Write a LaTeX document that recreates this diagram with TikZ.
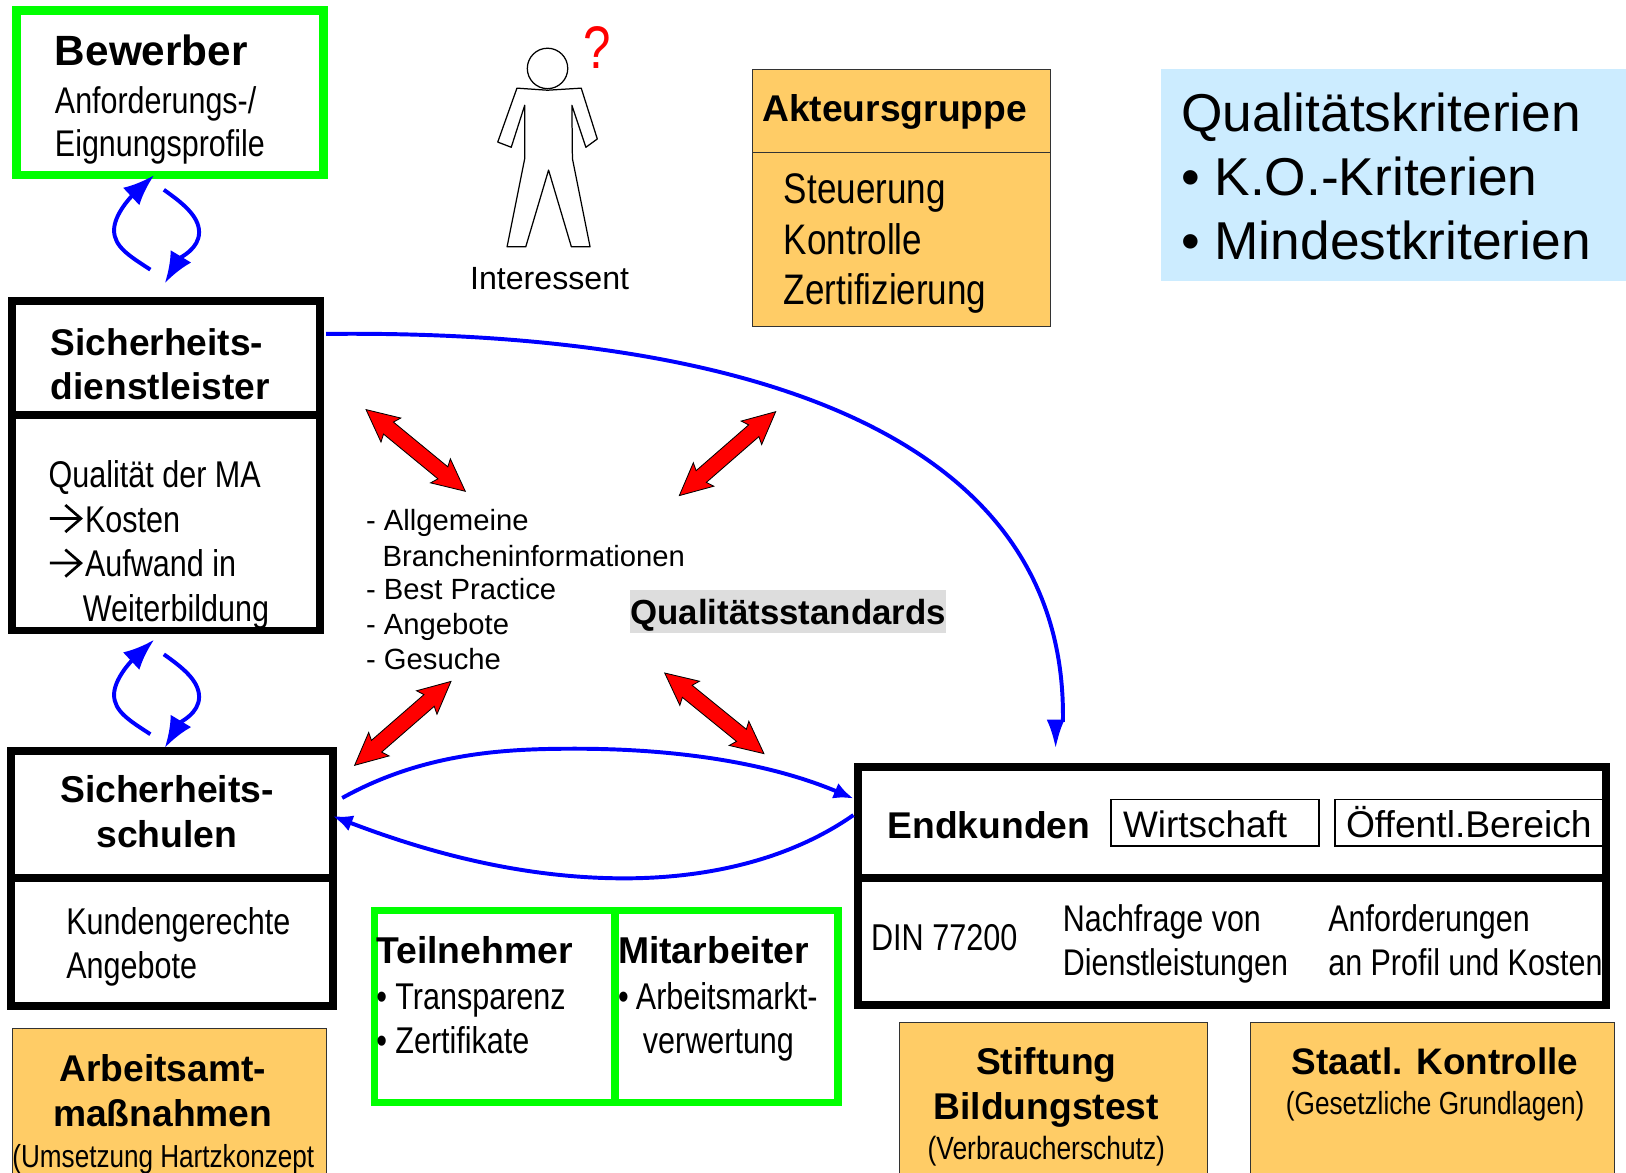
\documentclass[tikz,border=0pt]{standalone}
\usepackage{fontspec}
\setmainfont{Liberation Sans}
\newfontfamily\nar[FakeStretch=0.82]{Liberation Sans}
\usetikzlibrary{calc,arrows.meta}
\newlength\uu \setlength\uu{0.7778pt}
\newcommand\szf[2]{\fontsize{#1\uu}{#2\uu}\selectfont}
\newcommand\NN{\nar\szf{35.9}{43}}
\newcommand\BB{\bfseries\szf{35.9}{43}}
\definecolor{orangebox}{HTML}{FFCC66}
\definecolor{panelblue}{HTML}{CCECFF}
\definecolor{greyhl}{HTML}{DDDDDD}
\definecolor{lime}{HTML}{00FF00}
\tikzset{
 blackbox/.style={draw=black,line width=7.6\uu},
 greenbox/.style={draw=lime,line width=7\uu},
 orange/.style={draw=black!80,fill=orangebox,line width=1\uu},
 smallbox/.style={draw=black,line width=1.8\uu},
 blueline/.style={draw=blue,line width=3.8\uu},
 bigtip/.style={-{Latex[length=23.3pt,width=18pt]}},
 midtip/.style={-{Latex[length=14.8pt,width=12.5pt]}},
 longtip/.style={-{Latex[length=21.8pt,width=13.5pt]}},
 redarr/.style={draw=black,fill=red,line width=0.8\uu},
 lb/.style={inner sep=0pt,outer sep=0pt,anchor=base west,align=left,text=black},
 cb/.style={inner sep=0pt,outer sep=0pt,anchor=base,align=center,text=black},
}
\newcommand\bx[6][]{\node[inner sep=0pt,outer sep=0pt,#1,minimum width={(#5-#3)*\uu},minimum height={(#6-#4)*\uu}] (#2) at ({(#3+#5)/2},{(#4+#6)/2}) {};}
\newcommand\redarrow[2]{\draw[redarr] let \p1=($(#2)-(#1)$), \n1={atan2(\y1,\x1)}, \n2={veclen(\x1,\y1)} in [shift={(#1)},rotate=\n1]
 (0pt,0pt) -- (31\uu,15\uu) -- (28\uu,7.5\uu) -- (\n2-28\uu,7.5\uu) -- (\n2-31\uu,15\uu) -- (\n2,0pt) -- (\n2-31\uu,-15\uu) -- (\n2-28\uu,-7.5\uu) -- (28\uu,-7.5\uu) -- (31\uu,-15\uu) -- cycle;}
\begin{document}
\begin{tikzpicture}[x=0.7778pt,y=-0.7778pt]
\clip (0,0) rectangle (1568,1131);
\fill[white] (0,0) rectangle (1568,1131);

% panel
\bx[fill=panelblue]{panel}{1120}{67}{1568}{271}
\node[lb,font=\szf{51.4}{62}] (paneltext) at (1139,250.5) {\szf{51.4}{62}Qualitätskriterien\\\szf{51.4}{62}• K.O.-Kriterien\\\szf{51.4}{62}• Mindestkriterien};

% orange boxes
\bx[orange]{akt}{726}{67}{1013}{147}
\bx[orange]{aktb}{726}{147}{1013}{315}
\node[lb] (akttitle) at (735,117) {\BB Akteursgruppe};
\node[lb,font=\szf{41.2}{49}] (akttext) at (756,294) {\nar\szf{41.2}{49}Steuerung\\\nar\szf{41.2}{49}Kontrolle\\\nar\szf{41.2}{49}Zertifizierung};
\bx[orange]{arb}{12}{992}{315}{1160}
\bx[orange]{stift}{867}{986}{1164}{1160}
\bx[orange]{staat}{1206}{986}{1557}{1160}
\node[cb,font=\szf{35.7}{43}] (arbt) at (157,1086) {\BB Arbeitsamt-\\\BB maßnahmen};
\node[lb] (arbs) at (12,1126) {\nar\szf{30.7}{36}(Umsetzung Hartzkonzept};
\node[cb,font=\szf{35.7}{44}] (stiftt) at (1009,1080) {\BB Stiftung\\\BB Bildungstest};
\node[cb] (stifts) at (1009,1118) {\nar\szf{31}{36}(Verbraucherschutz)};
\node[cb] (staatt) at (1384,1036) {\bfseries\szf{35.6}{43}Staatl. Kontrolle};
\node[cb] (staats) at (1384,1075) {\nar\szf{30.8}{36}(Gesetzliche Grundlagen)};

% Bewerber
\bx[greenbox,line width=8\uu]{bew}{16}{10}{312}{169}
\node[lb] (bewt) at (53,63) {\bfseries\szf{40.8}{46}Bewerber};
\node[lb,font=\szf{35.5}{42}] (bews) at (53,151) {\nar\szf{35.8}{42}Anforderungs-/\\\nar\szf{35.8}{42}Eignungsprofile};

% Dienstleister
\bx[blackbox]{dl}{11.5}{290}{308.5}{400}
\bx[blackbox]{dlb}{11.5}{400}{308.5}{608}
\node[lb,font=\szf{36}{42}] (dlt) at (49,385) {\bfseries\szf{35.8}{42}Sicherheits-\\\bfseries\szf{35.8}{42}dienstleister};
\node[lb] (dl1) at (47,470) {\nar\szf{35.9}{43}Qualität der MA};
\node[lb] (dl2) at (82,513.5) {\nar\szf{35.9}{43}Kosten};
\node[lb] (dl3) at (82,556) {\nar\szf{35.9}{43}Aufwand in};
\node[lb] (dl4) at (80,599) {\nar\szf{35.9}{43}Weiterbildung};
\draw[line width=2.6\uu] (48,500)--(77,500) (63,487)--(78,500)--(63,513);
\draw[line width=2.6\uu] (48,543)--(77,543) (63,530)--(78,543)--(63,556);

% Schulen
\bx[blackbox]{sch}{11}{724}{321}{847}
\bx[blackbox]{schb}{11}{847}{321}{970}
\node[cb,font=\szf{36}{43}] (scht) at (161,817) {\bfseries\szf{36}{43}Sicherheits-\\\bfseries\szf{36}{43}schulen};
\node[lb,font=\szf{35.5}{43}] (schs) at (64,944) {\nar\szf{35.9}{43}Kundengerechte\\\nar\szf{35.9}{43}Angebote};

% Teilnehmer / Mitarbeiter
\bx[greenbox]{tn}{361}{878}{593}{1063}
\bx[greenbox]{ma}{593}{878}{808}{1063}
\node[lb] (tnt) at (363,929) {\bfseries\szf{36}{43}Teilnehmer};
\node[lb,font=\szf{35.5}{43}] (tns) at (363,1016) {\NN •\hspace{8\uu}Transparenz\\\NN •\hspace{8\uu}Zertifikate};
\node[lb] (mat) at (596,929) {\bfseries\szf{36}{43}Mitarbeiter};
\node[lb,font=\szf{35.5}{43}] (mas) at (596,1016) {\NN •\hspace{7\uu}Arbeitsmarkt-\\\NN \hspace{24\uu}verwertung};

% Endkunden
\bx[blackbox]{end}{827}{740}{1549}{847}
\bx[blackbox]{endb}{827}{847}{1549}{969}
\node[lb] (endt) at (856,809) {\BB Endkunden};
\bx[smallbox]{wirt}{1071}{771}{1272}{816}
\bx[smallbox]{oeff}{1287}{771}{1546}{816}
\node[lb] (wirtt) at (1083,808) {\szf{35.6}{43}Wirtschaft};
\node[lb] (oefft) at (1298,808) {\szf{35.9}{43}Öffentl.Bereich};
\node[lb] (din) at (840,917) {\nar\szf{36}{43}DIN 77200};
\node[lb,font=\szf{35.5}{43}] (nach) at (1025,941) {\nar\szf{35.8}{43}Nachfrage von\\\nar\szf{35.8}{43}Dienstleistungen};
\node[lb,font=\szf{35.5}{43}] (anf) at (1281,941) {\nar\szf{35.8}{43}Anforderungen\\\nar\szf{35.8}{43}an Profil und Kosten};

% Figure
\draw[black,line width=1.2\uu,fill=white] (528,66) circle [radius=19.5\uu];
\draw[black,line width=1.2\uu,line join=round] (498.5,85) -- (528,87) -- (560.5,85) -- (576,134) -- (565,142) -- (551.5,101.5) -- (552,153) -- (569,238) -- (551,238) -- (529,164) -- (507,238) -- (489,238) -- (506,153) -- (506,101.5) -- (493,142) -- (480,137) -- cycle;
\node[cb] (qm) at (576,66) {\nar\szf{58}{60}\textcolor{red}{?}};
\node[cb] (inter) at (530,279) {\szf{31}{36}Interessent};

% middle text
\node[lb] (li1) at (353,512) {\szf{28.2}{34}- Allgemeine};
\node[lb] (li2) at (369,546) {\szf{28.2}{34}Brancheninformationen};
\node[lb] (li3) at (353,578) {\szf{28.2}{34}- Best Practice};
\node[lb] (li4) at (353,612) {\szf{28.2}{34}- Angebote};
\node[lb] (li5) at (353,646) {\szf{28.2}{34}- Gesuche};
\bx[fill=greyhl]{qsbg}{608}{569}{912}{610}
\node[lb] (qs) at (608,602) {\bfseries\szf{33.6}{40}Qualitätsstandards};

% Red arrows
\coordinate (r1a) at (353,395); \coordinate (r1b) at (449,474);
\coordinate (r2a) at (748,397); \coordinate (r2b) at (655,478);
\coordinate (r3a) at (342,738); \coordinate (r3b) at (435,657);
\coordinate (r4a) at (641,649); \coordinate (r4b) at (737,727);
\redarrow{r1a}{r1b}
\redarrow{r2a}{r2b}
\redarrow{r3a}{r3b}
\redarrow{r4a}{r4b}

% Blue connectors
\coordinate (k1s) at ($(dl.east)+(6,-23)$);
\coordinate (k1e) at ($(end.north west)+(191,-18)$);
\coordinate (k1h) at ($(k1e)+(0,-27)$);
\draw[blueline,longtip] (k1s) .. controls (680,318) and (1030,400) .. (1025,696) (k1h) -- (k1e);
\coordinate (k2s) at ($(sch.east)+(9,-16)$);
\coordinate (k2e) at (823,770);
\draw[blueline,midtip] (k2s) .. controls (410,725) and (490,722) .. (555,722) .. controls (650,722) and (740,735) .. (k2e);
\coordinate (k3s) at (823,786);
\coordinate (k3e) at (321,787);
\draw[blueline,midtip] (k3s) .. controls (760,830) and (680,847) .. (602,847) .. controls (510,847) and (420,825) .. (k3e);
% cycle 1
\coordinate (c1a) at (145,260); \coordinate (c1b) at (148.5,169);
\coordinate (c1c) at (158,183); \coordinate (c1d) at (159,273);
\draw[blueline,bigtip] (c1a) .. controls (125,247) and (110,238) .. (110,222) .. controls (110,207) and (126,190) .. (c1b);
\draw[blueline,bigtip] (c1c) .. controls (175,195) and (192,208) .. (192,224) .. controls (192,240) and (174,248) .. (c1d);
% cycle 2
\coordinate (c2a) at (145,708); \coordinate (c2b) at (148.5,617);
\coordinate (c2c) at (158,631); \coordinate (c2d) at (159,721);
\draw[blueline,bigtip] (c2a) .. controls (125,695) and (110,686) .. (110,670) .. controls (110,655) and (126,638) .. (c2b);
\draw[blueline,bigtip] (c2c) .. controls (175,643) and (192,656) .. (192,672) .. controls (192,688) and (174,696) .. (c2d);
\end{tikzpicture}
\end{document}
